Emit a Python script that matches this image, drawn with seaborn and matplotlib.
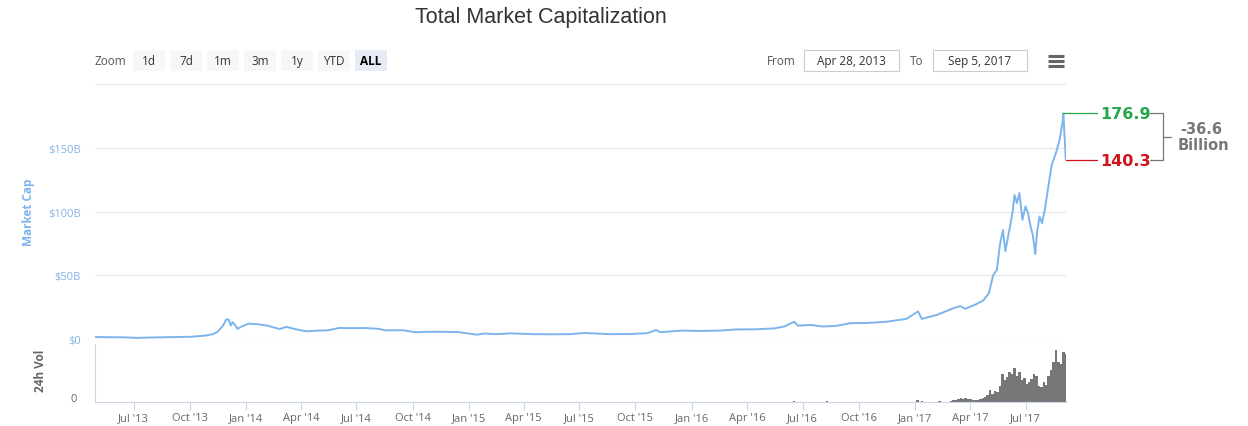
import numpy as np
import pandas as pd
import matplotlib
matplotlib.use("Agg")
import matplotlib.pyplot as plt
import matplotlib.dates as mdates
from matplotlib.patches import Rectangle
from matplotlib.lines import Line2D
from matplotlib.ticker import FixedLocator
import matplotlib.transforms as mtransforms
import seaborn as sns

# ---------------- data ----------------
mc_dates = [
    "2013-04-28", "2013-05-20", "2013-06-15", "2013-07-06", "2013-08-01", "2013-09-01",
    "2013-10-01", "2013-10-25", "2013-11-08", "2013-11-15", "2013-11-20", "2013-11-25",
    "2013-11-30", "2013-12-04", "2013-12-07", "2013-12-10", "2013-12-14", "2013-12-18",
    "2013-12-25", "2014-01-05", "2014-01-20", "2014-02-05", "2014-02-25", "2014-03-08",
    "2014-03-25", "2014-04-10", "2014-04-25", "2014-05-15", "2014-06-03", "2014-06-20",
    "2014-07-15", "2014-08-05", "2014-08-18", "2014-09-15", "2014-10-05", "2014-10-25",
    "2014-11-15", "2014-12-15", "2015-01-14", "2015-01-26", "2015-02-15", "2015-03-10",
    "2015-04-15", "2015-05-15", "2015-06-15", "2015-07-10", "2015-08-20", "2015-09-20",
    "2015-10-20", "2015-11-04", "2015-11-11", "2015-12-15", "2016-01-15", "2016-02-15",
    "2016-03-15", "2016-04-15", "2016-05-15", "2016-06-01", "2016-06-17", "2016-06-23",
    "2016-07-15", "2016-08-03", "2016-08-25", "2016-09-17", "2016-10-15", "2016-11-15",
    "2016-12-18", "2017-01-06", "2017-01-12", "2017-02-06", "2017-03-05", "2017-03-16",
    "2017-03-24", "2017-04-10", "2017-04-23", "2017-05-02", "2017-05-09", "2017-05-15",
    "2017-05-20", "2017-05-25", "2017-05-29", "2017-06-05", "2017-06-10", "2017-06-13",
    "2017-06-17", "2017-06-21", "2017-06-26", "2017-07-01", "2017-07-05", "2017-07-10",
    "2017-07-13", "2017-07-17", "2017-07-20", "2017-07-24", "2017-07-28", "2017-08-02",
    "2017-08-07", "2017-08-13", "2017-08-20", "2017-08-26", "2017-08-31", "2017-09-01",
    "2017-09-05",
]
mc_values = [
    1.6, 1.4, 1.3, 0.9, 1.2, 1.5,
    1.7, 2.6, 3.8, 5.5, 8.0, 11.0,
    15.5, 15.0, 10.5, 13.2, 11.0, 8.0,
    9.8, 12.0, 11.6, 10.5, 7.8, 9.5,
    7.5, 6.0, 6.5, 6.8, 8.7, 8.5,
    8.6, 8.0, 6.8, 6.9, 5.3, 5.6,
    5.7, 5.4, 3.4, 4.3, 3.8, 4.4,
    3.8, 3.7, 3.8, 4.7, 3.8, 3.9,
    4.5, 7.0, 5.3, 6.6, 6.3, 6.6,
    7.5, 7.6, 8.3, 9.8, 13.5, 10.5,
    11.0, 9.8, 10.3, 12.4, 12.6, 13.5,
    15.8, 21.6, 15.8, 18.9, 24.2, 25.8,
    23.7, 27.0, 30.3, 36.0, 50.0, 54.0,
    73.7, 85.5, 68.9, 86.8, 100.0, 113.0,
    106.6, 114.5, 93.4, 104.0, 98.7, 86.8,
    81.6, 66.6, 84.2, 96.1, 90.8, 102.6,
    118.4, 136.8, 146.0, 156.6, 171.0, 176.9,
    140.3,
]

vol_dates = [
    "2015-11-04", "2016-06-17", "2016-08-10", "2017-01-04", "2017-01-06", "2017-01-12",
    "2017-02-10", "2017-03-01", "2017-03-05", "2017-03-09", "2017-03-13", "2017-03-17",
    "2017-03-21", "2017-03-25", "2017-03-29", "2017-04-02", "2017-04-06", "2017-04-10",
    "2017-04-14", "2017-04-18", "2017-04-22", "2017-04-26", "2017-04-30", "2017-05-04",
    "2017-05-08", "2017-05-12", "2017-05-16", "2017-05-20", "2017-05-24", "2017-05-28",
    "2017-06-01", "2017-06-05", "2017-06-09", "2017-06-13", "2017-06-17", "2017-06-21",
    "2017-06-25", "2017-06-29", "2017-07-03", "2017-07-07", "2017-07-11", "2017-07-15",
    "2017-07-19", "2017-07-23", "2017-07-27", "2017-07-31", "2017-08-04", "2017-08-08",
    "2017-08-12", "2017-08-16", "2017-08-20", "2017-08-24", "2017-08-28", "2017-09-01",
    "2017-09-03", "2017-09-05",
]
vol_values = [
    0.05, 0.15, 0.1, 0.3, 0.35, 0.2,
    0.15, 0.2, 0.35, 0.3, 0.5, 0.7,
    0.5, 0.7, 0.5, 0.5, 0.35, 0.35,
    0.35, 0.5, 0.7, 0.9, 1.2, 2.1,
    1.4, 1.9, 1.7, 2.8, 4.8, 3.8,
    4.3, 5.2, 4.8, 5.8, 4.5, 5.2,
    3.8, 4.1, 3.1, 3.4, 4.0, 4.8,
    4.5, 2.8, 2.6, 3.4, 2.9, 4.5,
    5.5, 6.9, 9.0, 6.9, 6.5, 8.6,
    8.3, 7.6,
]

y_ticks = [0, 50, 100, 150, 200]
y_labels = ["$0", "$50B", "$100B", "$150B", ""]
zoom_buttons = ["1d", "7d", "1m", "3m", "1y", "YTD", "ALL"]
range_from = "Apr 28, 2013"
range_to = "Sep 5, 2017"
title = "Total Market Capitalization"

# ---------------- style ----------------
sns.set_theme(style="white")
plt.rcParams["font.family"] = ["Open Sans", "DejaVu Sans"]

W, H = 1248, 427
fig = plt.figure(figsize=(W / 100, H / 100), dpi=100)
fig.patch.set_facecolor("white")


def fx(x):
    return x / W


def fy(y):
    return 1 - y / H


LEFT, RIGHT = 94.6, 1065.8
ax = fig.add_axes([fx(LEFT), fy(340), (RIGHT - LEFT) / W, 255 / H])
axv = fig.add_axes([fx(LEFT), fy(403), (RIGHT - LEFT) / W, 58 / H], sharex=ax)

df = pd.DataFrame({"date": pd.to_datetime(mc_dates), "cap": mc_values})
vdf = pd.DataFrame({"date": pd.to_datetime(vol_dates), "vol": vol_values})

line_color = "#7cb5ec"
sns.lineplot(data=df, x="date", y="cap", ax=ax, color=line_color, linewidth=1.4)

x0 = pd.Timestamp(range_from.replace(",", ""))
x1 = pd.Timestamp(range_to.replace(",", ""))
ax.set_xlim(x0, x1)
ax.set_ylim(0, 200)

# main axes styling
for s in ax.spines.values():
    s.set_visible(False)
ax.yaxis.set_major_locator(FixedLocator(y_ticks))
ax.set_yticklabels(y_labels)
ax.grid(axis="y", color="#e6e6e6", linewidth=0.8)
ax.grid(axis="x", visible=False)
ax.tick_params(axis="y", length=0, pad=10, labelsize=8, labelcolor="#86b3e3")
ax.tick_params(axis="x", bottom=False, labelbottom=False)
ax.set_xlabel("")
ax.set_ylabel("Market Cap", color=line_color, fontsize=8.5, fontweight="bold")
ax.yaxis.set_label_coords(-0.0614, 0.5)
ax.set_facecolor("none")

# volume bars
axv.bar(vdf["date"], vdf["vol"], width=4.0, color="#777777", edgecolor="none", align="center")
axv.set_ylim(0, 10)
axv.set_xlim(x0, x1)
axv.set_facecolor("none")
for name, s in axv.spines.items():
    if name in ("left", "bottom"):
        s.set_color("#ccd6eb")
        s.set_linewidth(0.8)
    else:
        s.set_visible(False)
axv.yaxis.set_major_locator(FixedLocator([0]))
axv.set_yticklabels(["0"])
axv.tick_params(axis="y", length=0, pad=13, labelsize=8, labelcolor="#666666")
off = mtransforms.ScaledTranslation(0, 5 / 100, fig.dpi_scale_trans)
for lab in axv.get_yticklabels():
    lab.set_transform(lab.get_transform() + off)
axv.set_ylabel("24h Vol", color="#666666", fontsize=8.5, fontweight="bold")
axv.yaxis.set_label_coords(-0.049, 0.55)
axv.xaxis.set_major_locator(mdates.MonthLocator(bymonth=[1, 4, 7, 10]))
axv.xaxis.set_major_formatter(mdates.DateFormatter("%b '%y"))
axv.tick_params(axis="x", direction="out", length=6, width=0.8, color="#ccd6eb",
                labelsize=8, labelcolor="#666666", pad=1, bottom=True)
axv.set_xlabel("")
axv.grid(False)

# ---------------- chrome ----------------
fig.text(fx(541), fy(18), title, ha="center", va="center", fontsize=15.5,
         color="#333333", family=["Liberation Sans", "DejaVu Sans"])

fig.text(fx(95), fy(62), "Zoom", ha="left", va="center", fontsize=8.5, color="#555555")
bx = 133
for lab in zoom_buttons:
    active = lab == "ALL"
    fig.add_artist(Rectangle((fx(bx), fy(72)), 32 / W, 21 / H, transform=fig.transFigure,
                             facecolor="#e6ebf5" if active else "#f7f7f7", edgecolor="none"))
    fig.text(fx(bx + 16), fy(61.5), lab, ha="center", va="center", fontsize=8.5,
             color="#000000" if active else "#333333",
             fontweight="bold" if active else "normal")
    bx += 37

fig.text(fx(767), fy(61.5), "From", ha="left", va="center", fontsize=8.5, color="#555555")
fig.text(fx(910), fy(61.5), "To", ha="left", va="center", fontsize=8.5, color="#555555")
for (xa, xb, txt) in [(804, 899, range_from), (933, 1027, range_to)]:
    fig.add_artist(Rectangle((fx(xa), fy(72)), (xb - xa) / W, 21 / H, transform=fig.transFigure,
                             facecolor="white", edgecolor="#cccccc", linewidth=0.8))
    fig.text(fx((xa + xb) / 2), fy(61.5), txt, ha="center", va="center", fontsize=8.5,
             color="#333333")
for yy in (57, 62, 67):
    fig.add_artist(Line2D([fx(1048), fx(1064)], [fy(yy), fy(yy)], transform=fig.transFigure,
                          color="#666666", linewidth=2.2, solid_capstyle="butt"))

# ---------------- peak / last annotation ----------------
peak_i = int(np.argmax(mc_values))
peak_val = mc_values[peak_i]
last_val = mc_values[-1]
diff = last_val - peak_val
fig.canvas.draw()


def data_to_fig(date, val):
    px, py = ax.transData.transform((mdates.date2num(pd.Timestamp(date)), val))
    return px / W, py / H


pxk, pyk = data_to_fig(mc_dates[peak_i], peak_val)
pxl, pyl = data_to_fig(mc_dates[-1], last_val)
green, red, grey = "#22a84a", "#d0121b", "#777777"
fig.add_artist(Line2D([pxk, fx(1097)], [pyk, pyk], transform=fig.transFigure, color=green, linewidth=0.9))
fig.add_artist(Line2D([pxl, fx(1097)], [pyl, pyl], transform=fig.transFigure, color=red, linewidth=0.9))
fig.text(fx(1100), pyk, f"{peak_val:.1f}", ha="left", va="center", fontsize=11.5,
         fontweight="bold", color=green, family=["DejaVu Sans"])
fig.text(fx(1100), pyl, f"{last_val:.1f}", ha="left", va="center", fontsize=11.5,
         fontweight="bold", color=red, family=["DejaVu Sans"])
fig.add_artist(Line2D([fx(1150), fx(1163), fx(1163), fx(1150)], [pyk, pyk, pyl, pyl],
                      transform=fig.transFigure, color=grey, linewidth=0.9))
ymid = (pyk + pyl) / 2
fig.add_artist(Line2D([fx(1163), fx(1171)], [ymid, ymid], transform=fig.transFigure,
                      color=grey, linewidth=0.9))
fig.text(fx(1201), ymid + 8 / H, f"{diff:.1f}", ha="center", va="center", fontsize=10.5,
         fontweight="bold", color=grey, family=["DejaVu Sans"])
fig.text(fx(1203), ymid - 8 / H, "Billion", ha="center", va="center", fontsize=10.5,
         fontweight="bold", color=grey, family=["DejaVu Sans"])

fig.savefig("out.png", dpi=100, facecolor="white")
